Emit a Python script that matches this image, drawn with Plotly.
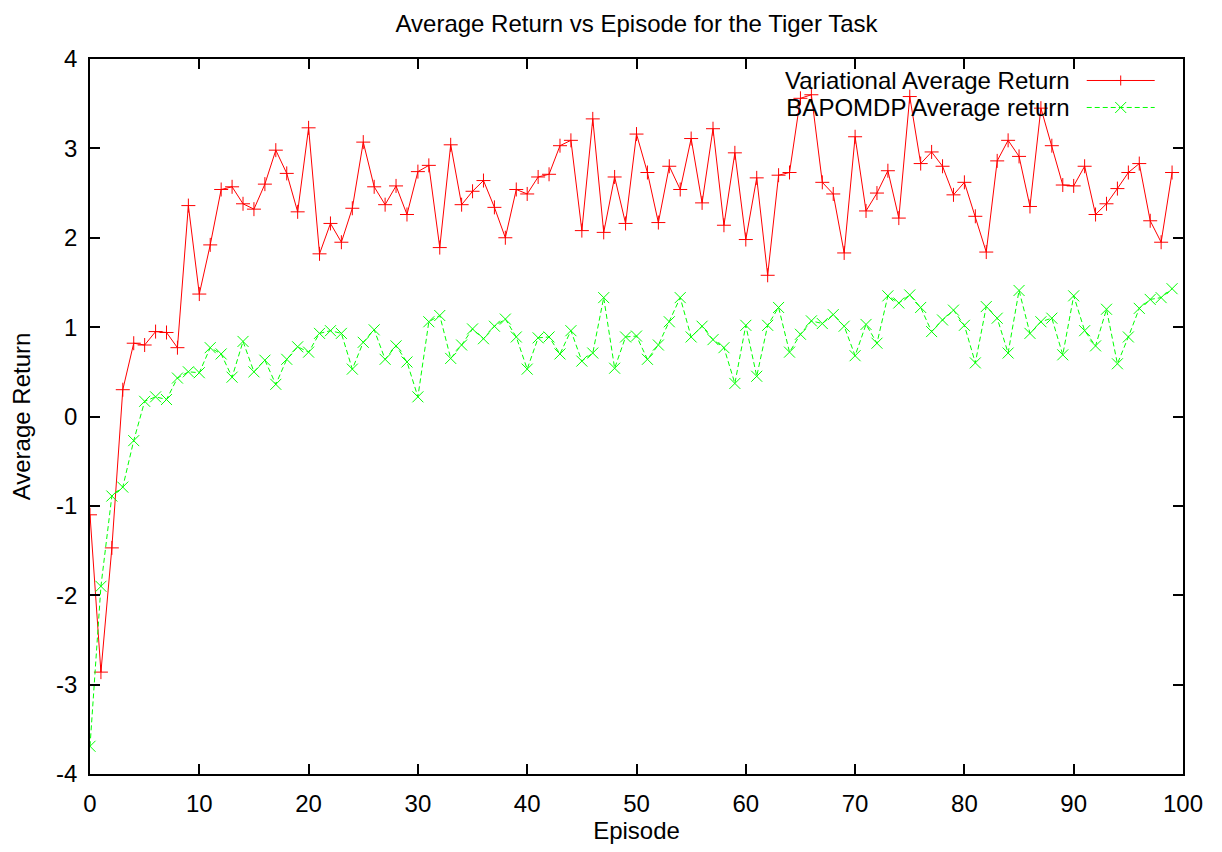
import plotly.graph_objects as go

episodes = list(range(100))

variational = [
    -1.10, -2.86, -1.47, 0.30, 0.82, 0.80, 0.95, 0.94, 0.77, 2.36,
    1.37, 1.92, 2.54, 2.57, 2.38, 2.32, 2.60, 2.98, 2.72, 2.29,
    3.23, 1.82, 2.16, 1.95, 2.33, 3.07, 2.57, 2.37, 2.58, 2.26,
    2.74, 2.81, 1.89, 3.04, 2.37, 2.52, 2.64, 2.34, 2.00, 2.54,
    2.49, 2.68, 2.71, 3.03, 3.09, 2.08, 3.33, 2.06, 2.68, 2.16,
    3.16, 2.73, 2.17, 2.80, 2.54, 3.11, 2.39, 3.22, 2.14, 2.95,
    1.98, 2.67, 1.58, 2.70, 2.73, 3.56, 3.60, 2.62, 2.49, 1.83,
    3.13, 2.30, 2.50, 2.75, 2.22, 3.58, 2.83, 2.96, 2.80, 2.48,
    2.62, 2.24, 1.84, 2.86, 3.09, 2.91, 2.35, 3.45, 3.03, 2.59,
    2.58, 2.80, 2.26, 2.38, 2.55, 2.73, 2.83, 2.19, 1.95, 2.73,
]

bapomdp = [
    -3.69, -1.90, -0.89, -0.79, -0.27, 0.17, 0.22, 0.19, 0.43, 0.50,
    0.49, 0.77, 0.70, 0.44, 0.84, 0.50, 0.63, 0.36, 0.64, 0.78,
    0.72, 0.93, 0.96, 0.93, 0.53, 0.83, 0.97, 0.64, 0.79, 0.61,
    0.22, 1.06, 1.13, 0.65, 0.80, 0.98, 0.87, 1.01, 1.09, 0.89,
    0.53, 0.88, 0.89, 0.70, 0.96, 0.62, 0.71, 1.33, 0.54, 0.89,
    0.90, 0.64, 0.80, 1.06, 1.33, 0.89, 1.01, 0.86, 0.77, 0.37,
    1.02, 0.45, 1.02, 1.22, 0.72, 0.92, 1.07, 1.04, 1.14, 1.01,
    0.68, 1.03, 0.82, 1.35, 1.27, 1.36, 1.22, 0.95, 1.08, 1.19,
    1.02, 0.60, 1.23, 1.10, 0.71, 1.41, 0.93, 1.06, 1.10, 0.69,
    1.35, 0.96, 0.79, 1.20, 0.59, 0.89, 1.21, 1.31, 1.33, 1.43,
]

series_names = ["Variational Average Return", "BAPOMDP Average return"]
x_ticks = list(range(0, 101, 10))
y_ticks = list(range(-4, 5, 1))
y_ticklabels = [str(v) for v in y_ticks]   # hyphen-minus like the original
x_ticklabels = [str(v) for v in x_ticks]

FONT = "Liberation Sans, Arial, sans-serif"
FS = 24
RED = "#ff0000"
GREEN = "#00ff00"

OFF = 8  # page body margin
W, H = 1222 - 2 * OFF, 852 - 2 * OFF
# plot area in screen pixels
SL, SR, ST, SB = 90, 1183.3, 59, 774.3
L, R, T, B = SL - OFF, SR - OFF, ST - OFF, SB - OFF


def px(xs):
    return (xs - SL) / (SR - SL)


def py(ys):
    return (SB - ys) / (SB - ST)


fig = go.Figure()
fig.add_trace(go.Scatter(
    x=episodes, y=variational, mode="lines+markers", name=series_names[0],
    line=dict(color=RED, width=1),
    marker=dict(symbol="cross-thin", size=10, color=RED, line=dict(color=RED, width=1)),
    showlegend=False,
))
fig.add_trace(go.Scatter(
    x=episodes, y=bapomdp, mode="lines+markers", name=series_names[1],
    line=dict(color=GREEN, width=1, dash="5px,3px"),
    marker=dict(symbol="x-thin", size=11, color=GREEN, line=dict(color=GREEN, width=1)),
    showlegend=False,
))

# manual gnuplot-style legend: stacked text block, samples to the right
ROW1, ROW2 = 80.5, 107.5
shapes = []
legend_text = "<br>".join(
    f"<span style='font-size:{FS}px'>{n}</span>" for n in series_names
)
annotations = [dict(
    x=px(1072), y=py((ROW1 + ROW2) / 2), xref="paper", yref="paper",
    text=legend_text, showarrow=False, xanchor="right", yanchor="middle",
    align="right",
    font=dict(family=FONT, size=(ROW2 - ROW1) / 1.3, color="black"),
)]
rows = [(ROW1, RED, "solid", "plus"), (ROW2, GREEN, "dash", "x")]
for ypix, col, dash, sym in rows:
    shapes.append(dict(
        type="line", xref="paper", yref="paper",
        x0=px(1087), x1=px(1155), y0=py(ypix), y1=py(ypix),
        line=dict(color=col, width=1, dash="solid" if dash == "solid" else "5px,3px"),
    ))
    cx = 1121
    if sym == "plus":
        shapes.append(dict(type="line", xref="paper", yref="paper",
                           x0=px(cx - 5), x1=px(cx + 5), y0=py(ypix), y1=py(ypix),
                           line=dict(color=col, width=1)))
        shapes.append(dict(type="line", xref="paper", yref="paper",
                           x0=px(cx), x1=px(cx), y0=py(ypix - 5), y1=py(ypix + 5),
                           line=dict(color=col, width=1)))
    else:
        shapes.append(dict(type="line", xref="paper", yref="paper",
                           x0=px(cx - 5.5), x1=px(cx + 5.5), y0=py(ypix - 5.5), y1=py(ypix + 5.5),
                           line=dict(color=col, width=1)))
        shapes.append(dict(type="line", xref="paper", yref="paper",
                           x0=px(cx - 5.5), x1=px(cx + 5.5), y0=py(ypix + 5.5), y1=py(ypix - 5.5),
                           line=dict(color=col, width=1)))

axis_common = dict(
    showline=True, linecolor="black", linewidth=1.5, mirror="ticks",
    ticks="inside", ticklen=10, tickwidth=1.5, tickcolor="black",
    showgrid=False, zeroline=False, automargin=False,
    tickfont=dict(family=FONT, size=FS, color="black"),
)

fig.update_layout(
    width=W, height=H,
    paper_bgcolor="white", plot_bgcolor="white",
    margin=dict(l=L, r=W - R, t=T, b=H - B, pad=0, autoexpand=False),
    title=dict(text="Average Return vs Episode for the Tiger Task",
               x=0.5, xref="paper", y=1 - (24 - OFF) / H, yref="container",
               xanchor="center", yanchor="middle", automargin=False,
               font=dict(family=FONT, size=FS, color="black")),
    xaxis=dict(range=[0, 100], tickvals=x_ticks, ticktext=x_ticklabels,
               ticklabelstandoff=7,
               title=dict(text="Episode", standoff=18,
                          font=dict(family=FONT, size=FS, color="black")),
               **axis_common),
    yaxis=dict(range=[-4, 4], tickvals=y_ticks, ticktext=y_ticklabels,
               ticklabelstandoff=6,
               title=dict(text="Average Return", standoff=20,
                          font=dict(family=FONT, size=FS, color="black")),
               **axis_common),
    shapes=shapes,
    annotations=annotations,
    showlegend=False,
)

fig.write_html("out.html")
